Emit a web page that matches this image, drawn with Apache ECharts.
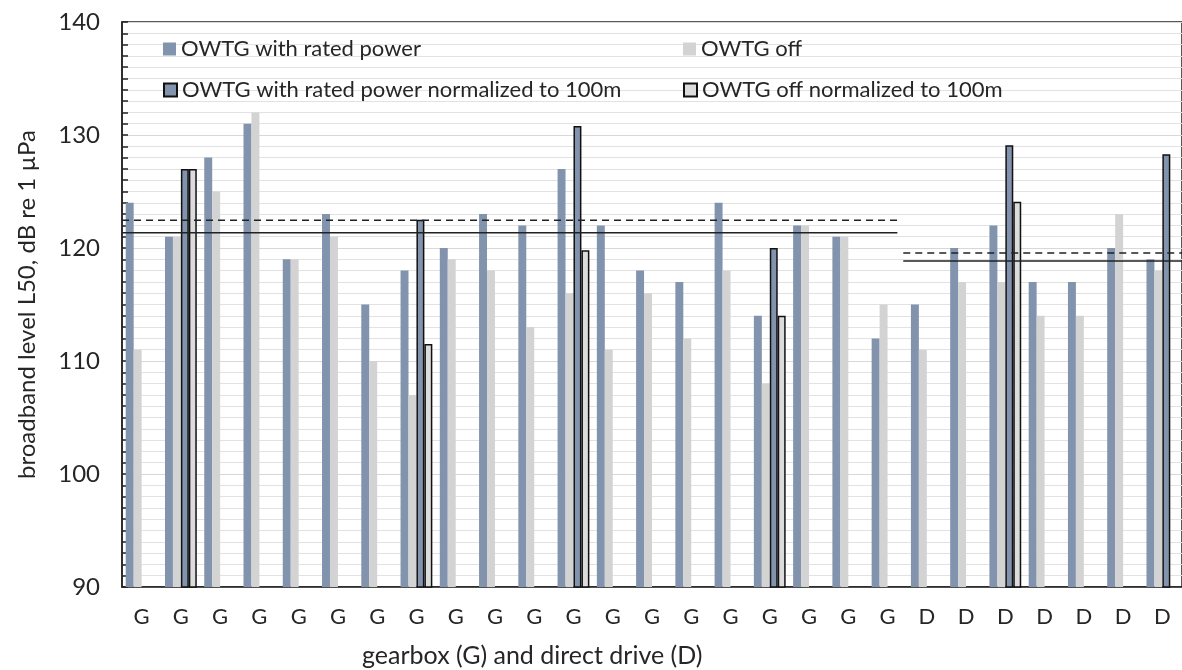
<!DOCTYPE html>
<html>
<head>
<meta charset="utf-8">
<script src="https://cdn.jsdelivr.net/npm/echarts@6/dist/echarts.min.js"></script>
<style>
  html, body { margin: 0; padding: 0; background: #fff; }
  #chart { width: 1182px; height: 670px; }
</style>
</head>
<body>
<div id="chart"></div>
<script>
// categories: gearbox (G) and direct drive (D) turbines
const categories = ['G', 'G', 'G', 'G', 'G', 'G', 'G', 'G', 'G', 'G',
                    'G', 'G', 'G', 'G', 'G', 'G', 'G', 'G', 'G', 'G',
                    'D', 'D', 'D', 'D', 'D', 'D', 'D'];

const ratedPower = [124, 121, 128, 131, 119, 123, 115, 118, 120, 123,
                    122, 127, 122, 118, 117, 124, 114, 122, 121, 112,
                    115, 120, 122, 117, 117, 120, 119];
const owtgOff = [111, 121, 125, 132, 119, 121, 110, 107, 119, 118,
                 113, 116, 111, 116, 112, 118, 108, 122, 121, 115,
                 111, 117, 117, 114, 114, 123, 118];
const ratedNorm = [null, 127, null, null, null, null, null, 122.5, null, null,
                   null, 130.8, null, null, null, null, 120, null, null, null,
                   null, null, 129.1, null, null, null, 128.3];
const offNorm = [null, 127, null, null, null, null, null, 111.5, null, null,
                 null, 119.8, null, null, null, null, 114, null, null, null,
                 null, null, 124.1, null, null, null, null];

// group means (G, D) drawn over the span of each group (category index units)
const groupSpans = [[0, 19.75], [19.9, 27]];
const meanDashed = [122.45, 119.56];
const meanSolid = [121.36, 118.85];

const yTicks = [90, 100, 110, 120, 130, 140];

const blue = '#8293ad';
const grey = '#d3d3d3';
const font = 'Lato, "Liberation Sans", sans-serif';

const chart = echarts.init(document.getElementById('chart'));

function meanLine(i, vals, type) {
    return {
        type: 'line',
        xAxisIndex: 1,
        yAxisIndex: 0,
        silent: true,
        symbol: 'none',
        animation: false,
        lineStyle: { color: '#222', width: 1.5, type: type },
        data: [[groupSpans[i][0], vals[i]], [groupSpans[i][1], vals[i]]],
        z: 5
    };
}

function legendAt(name, left, top) {
    return {
        data: [name],
        left: left,
        top: top,
        padding: 0,
        icon: 'rect',
        itemWidth: 13,
        itemHeight: 13,
        itemGap: 0,
        selectedMode: false,
        textStyle: { fontFamily: font, fontSize: 22, color: '#262626' }
    };
}

const series = [
    { name: 'OWTG with rated power', type: 'bar', data: ratedPower,
      itemStyle: { color: blue } },
    { name: 'OWTG off', type: 'bar', data: owtgOff,
      itemStyle: { color: grey } },
    { name: 'OWTG with rated power normalized to 100m', type: 'bar', data: ratedNorm,
      itemStyle: { color: blue, borderColor: '#111', borderWidth: 1.5 } },
    { name: 'OWTG off normalized to 100m', type: 'bar', data: offNorm,
      itemStyle: { color: '#dcdcdc', borderColor: '#111', borderWidth: 1.5 } }
];
series.forEach(s => { s.barGap = '0%'; s.barCategoryGap = '19%'; s.animation = false; });

for (let i = 0; i < groupSpans.length; i++) {
    series.push(meanLine(i, meanDashed, [7, 5]));
    series.push(meanLine(i, meanSolid, 'solid'));
}

chart.setOption({
    animation: false,
    textStyle: { fontFamily: font },
    title: {
        text: 'gearbox (G) and direct drive (D)',
        left: 362,
        top: 643,
        padding: 0,
        textStyle: { fontFamily: font, fontSize: 25, fontWeight: 'normal', color: '#262626' }
    },
    legend: [
        legendAt('OWTG with rated power', 163, 38),
        legendAt('OWTG off', 683, 38),
        legendAt('OWTG with rated power normalized to 100m', 163, 79),
        legendAt('OWTG off normalized to 100m', 683, 79)
    ],
    grid: {
        show: true,
        left: 122,
        top: 22,
        right: -8,
        bottom: 83,
        borderColor: '#222',
        borderWidth: 1.5,
        containLabel: false
    },
    xAxis: [{
        type: 'category',
        data: categories,
        axisLine: { lineStyle: { color: '#222', width: 1.5 } },
        axisTick: { show: false },
        axisLabel: { fontFamily: font, fontSize: 22, color: '#262626', margin: 19, interval: 0 },
        splitLine: { show: false }
    }, {
        type: 'value',
        min: 0,
        max: 27,
        show: false
    }],
    yAxis: {
        type: 'value',
        min: yTicks[0],
        max: yTicks[yTicks.length - 1],
        interval: 10,
        name: 'broadband level L50, dB re 1 µPa',
        nameLocation: 'middle',
        nameGap: 83,
        nameTextStyle: { fontFamily: font, fontSize: 24, color: '#262626' },
        axisLine: { show: true, lineStyle: { color: '#222', width: 1.5 } },
        axisTick: { show: true, inside: true, length: 6, lineStyle: { color: '#222', width: 1.5 } },
        minorTick: { show: true, splitNumber: 10, length: 6, lineStyle: { color: '#222', width: 1.5 } },
        axisLabel: { fontFamily: font, fontSize: 24, color: '#262626', margin: 22 },
        splitLine: { show: true, lineStyle: { color: '#d8d8d8', width: 1 } },
        minorSplitLine: { show: true, lineStyle: { color: '#e2e2e2', width: 1 } }
    },
    series: series
});
</script>
</body>
</html>
